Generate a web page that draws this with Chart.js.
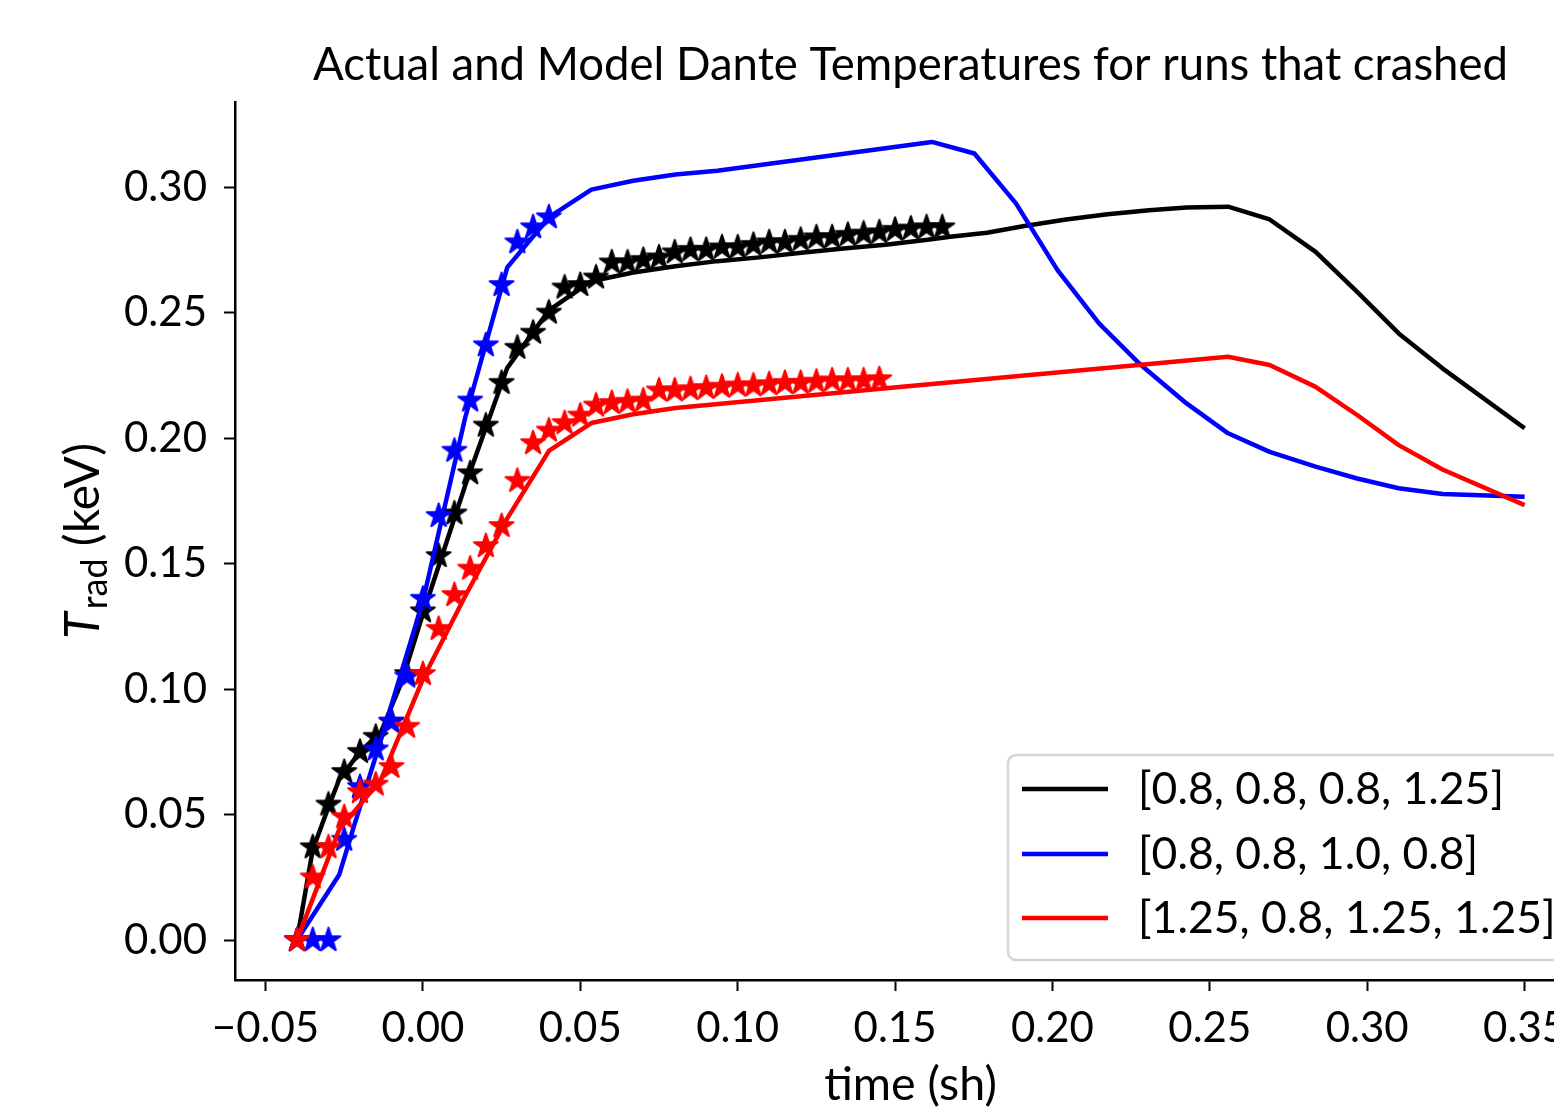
<!DOCTYPE html>
<html><head><meta charset="utf-8">
<script src="https://cdn.jsdelivr.net/npm/chart.js@4.4.1/dist/chart.umd.min.js"></script>
<style>
html,body{margin:0;padding:0;background:#fff;overflow:hidden;}
#wrap{position:relative;width:1554px;height:1113px;overflow:hidden;background:#fff;}
canvas{display:block;}
</style></head><body>
<div id="wrap"><canvas id="c" width="1600" height="1113"></canvas></div>
<script>
const FONT = 'Lato, "DejaVu Sans", sans-serif';
const titleText = 'Actual and Model Dante Temperatures for runs that crashed';
const xLabel = 'time (sh)';
const yLabelMain = 'T', yLabelSub = 'rad', yLabelUnit = ' (keV)';
const seriesLabels = ['[0.8, 0.8, 0.8, 1.25]', '[0.8, 0.8, 1.0, 0.8]', '[1.25, 0.8, 1.25, 1.25]'];
const seriesColors = ['#000000', '#0000ff', '#ff0000'];
const xTicks = [-0.05, 0.00, 0.05, 0.10, 0.15, 0.20, 0.25, 0.30, 0.35];
const yTicks = [0.00, 0.05, 0.10, 0.15, 0.20, 0.25, 0.30];
const xRange = [-0.0597, 0.3695];
const yRange = [-0.0159, 0.3339];

// model curves (lines)
const blackModelT = [-0.040, -0.035, -0.030, -0.0266, -0.020, -0.0133, -0.0067, 0.000, 0.0134, 0.0268, 0.0401, 0.0535, 0.0668, 0.0802, 0.0935, 0.1069, 0.1202, 0.1336, 0.1469, 0.1603, 0.1675, 0.1792, 0.1911, 0.2043, 0.2175, 0.2307, 0.2426, 0.2558, 0.2690, 0.2836, 0.2968, 0.3100, 0.3239, 0.3500];
const blackModelY = [0.000, 0.036, 0.053, 0.064, 0.075, 0.083, 0.103, 0.130, 0.181, 0.228, 0.251, 0.2625, 0.266, 0.2685, 0.2705, 0.272, 0.2738, 0.2755, 0.277, 0.279, 0.2802, 0.2818, 0.2845, 0.2871, 0.2892, 0.2908, 0.2919, 0.2922, 0.2871, 0.2742, 0.2583, 0.2417, 0.2278, 0.2039];

const blueModelT = [-0.040, -0.0266, -0.022, -0.0133, 0.000, 0.0134, 0.0268, 0.0401, 0.0535, 0.0668, 0.0802, 0.0935, 0.1617, 0.1752, 0.1884, 0.2016, 0.2148, 0.2281, 0.2426, 0.2558, 0.2690, 0.2836, 0.2968, 0.3100, 0.3239, 0.3500];
const blueModelY = [0.000, 0.026, 0.045, 0.080, 0.135, 0.208, 0.268, 0.288, 0.299, 0.3025, 0.305, 0.3065, 0.318, 0.3134, 0.2935, 0.2669, 0.2457, 0.2291, 0.2138, 0.2019, 0.1945, 0.1886, 0.1839, 0.1800, 0.1777, 0.1766];

const redModelT = [-0.040, -0.0266, -0.0133, 0.000, 0.0134, 0.0268, 0.0401, 0.0535, 0.0668, 0.0802, 0.1514, 0.2558, 0.2690, 0.2836, 0.2968, 0.3100, 0.3239, 0.3500];
const redModelY = [0.000, 0.044, 0.064, 0.104, 0.137, 0.168, 0.195, 0.206, 0.2095, 0.212, 0.2204, 0.2324, 0.2291, 0.2204, 0.2092, 0.1972, 0.1875, 0.1733];

// measured data (stars)
const blackDataT = [-0.040, -0.035, -0.030, -0.025, -0.020, -0.015, -0.010, -0.005, 0.000, 0.005, 0.010, 0.015, 0.020, 0.025, 0.030, 0.035, 0.040, 0.045, 0.050, 0.055, 0.060, 0.065, 0.070, 0.075, 0.080, 0.085, 0.090, 0.095, 0.100, 0.105, 0.110, 0.115, 0.120, 0.125, 0.130, 0.135, 0.140, 0.145, 0.150, 0.155, 0.160, 0.165];
const blackDataY = [0.000, 0.037, 0.054, 0.067, 0.075, 0.081, 0.087, 0.106, 0.131, 0.153, 0.170, 0.186, 0.205, 0.222, 0.236, 0.242, 0.250, 0.260, 0.261, 0.264, 0.270, 0.270, 0.271, 0.272, 0.274, 0.275, 0.275, 0.276, 0.276, 0.277, 0.278, 0.278, 0.279, 0.280, 0.280, 0.281, 0.2815, 0.282, 0.283, 0.2835, 0.284, 0.284];

const blueDataT = [-0.040, -0.035, -0.030, -0.025, -0.020, -0.015, -0.010, -0.005, 0.000, 0.005, 0.010, 0.015, 0.020, 0.025, 0.030, 0.035, 0.040];
const blueDataY = [0.000, 0.000, 0.000, 0.040, 0.061, 0.076, 0.087, 0.105, 0.136, 0.169, 0.195, 0.215, 0.237, 0.261, 0.278, 0.284, 0.288];

const redDataT = [-0.040, -0.035, -0.030, -0.025, -0.020, -0.015, -0.010, -0.005, 0.000, 0.005, 0.010, 0.015, 0.020, 0.025, 0.030, 0.035, 0.040, 0.045, 0.050, 0.055, 0.060, 0.065, 0.070, 0.075, 0.080, 0.085, 0.090, 0.095, 0.100, 0.105, 0.110, 0.115, 0.120, 0.125, 0.130, 0.135, 0.140, 0.145];
const redDataY = [0.000, 0.025, 0.037, 0.049, 0.059, 0.062, 0.069, 0.085, 0.106, 0.124, 0.1375, 0.148, 0.157, 0.165, 0.183, 0.198, 0.203, 0.206, 0.209, 0.213, 0.214, 0.2145, 0.215, 0.219, 0.219, 0.2195, 0.220, 0.2205, 0.221, 0.221, 0.2215, 0.222, 0.222, 0.2225, 0.223, 0.223, 0.223, 0.2235];

function pts(T, Y) { return T.map((t, i) => ({ x: t, y: Y[i] })); }
function starImage(color) {
  const s = 34, c = document.createElement('canvas'); c.width = s; c.height = s;
  const g = c.getContext('2d'); const R = 12.5, r = R * 0.381966;
  g.beginPath();
  for (let i = 0; i < 10; i++) {
    const a = -Math.PI / 2 + i * Math.PI / 5; const rr = (i % 2) ? r : R;
    g.lineTo(s / 2 + rr * Math.cos(a), s / 2 + rr * Math.sin(a));
  }
  g.closePath(); g.fillStyle = color; g.fill();
  g.lineWidth = 2; g.lineJoin = 'round'; g.strokeStyle = color; g.stroke();
  return c;
}
function fmt(v) { const a = Math.abs(v).toFixed(2); return v < -1e-9 ? '\u2212' + a : a; }

function lineDs(i, T, Y, order) {
  return { label: seriesLabels[i], data: pts(T, Y), showLine: true, borderColor: seriesColors[i], backgroundColor: seriesColors[i],
    borderWidth: 4.5, pointRadius: 0, pointHoverRadius: 0, tension: 0, fill: false, order: order, borderJoinStyle: 'round', borderCapStyle: 'butt' };
}
function starDs(i, T, Y, order) {
  return { label: '', data: pts(T, Y), showLine: false, pointStyle: starImage(seriesColors[i]), pointRadius: 13, order: order,
    borderColor: seriesColors[i], backgroundColor: seriesColors[i] };
}

const overlay = {
  id: 'overlay',
  afterDraw(chart) {
    const ctx = chart.ctx, ca = chart.chartArea;
    ctx.save();
    ctx.fillStyle = '#000';
    // title
    ctx.font = '45.5px ' + FONT; ctx.textAlign = 'center'; ctx.textBaseline = 'alphabetic';
    ctx.fillText(titleText, (ca.left + ca.right) / 2, 80);
    // x label
    ctx.font = '46.5px ' + FONT;
    ctx.fillText(xLabel, (ca.left + ca.right) / 2, 1100);
    // y label (rotated, with subscript)
    const cy = (ca.top + ca.bottom) / 2;
    ctx.translate(99, cy); ctx.rotate(-Math.PI / 2);
    ctx.textAlign = 'left';
    const fMain = 'italic 49px ' + FONT, fSub = '36px ' + FONT, fUnit = '48px ' + FONT;
    ctx.font = fMain; const w1 = ctx.measureText(yLabelMain).width;
    ctx.font = fSub; const w2 = ctx.measureText(yLabelSub).width;
    ctx.font = fUnit; const w3 = ctx.measureText(yLabelUnit).width;
    let x0 = -(w1 + w2 + w3 + 3) / 2;
    ctx.font = fMain; ctx.fillText(yLabelMain, x0, 0); x0 += w1 + 3;
    ctx.font = fSub; ctx.fillText(yLabelSub, x0, 8); x0 += w2;
    ctx.font = fUnit; ctx.fillText(yLabelUnit, x0, 0);
    ctx.restore();

    // legend
    ctx.save();
    const lx = 1008, ly = 755, lw = 559, lh = 205, rad = 8;
    ctx.beginPath();
    ctx.moveTo(lx + rad, ly); ctx.lineTo(lx + lw - rad, ly); ctx.arcTo(lx + lw, ly, lx + lw, ly + rad, rad);
    ctx.lineTo(lx + lw, ly + lh - rad); ctx.arcTo(lx + lw, ly + lh, lx + lw - rad, ly + lh, rad);
    ctx.lineTo(lx + rad, ly + lh); ctx.arcTo(lx, ly + lh, lx, ly + lh - rad, rad);
    ctx.lineTo(lx, ly + rad); ctx.arcTo(lx, ly, lx + rad, ly, rad); ctx.closePath();
    ctx.fillStyle = 'rgba(255,255,255,0.8)'; ctx.fill();
    ctx.strokeStyle = '#d5d5d5'; ctx.lineWidth = 2.5; ctx.stroke();
    const rows = [789, 854, 918];
    ctx.font = '44.5px ' + FONT; ctx.textAlign = 'left'; ctx.textBaseline = 'middle';
    for (let i = 0; i < 3; i++) {
      ctx.strokeStyle = seriesColors[i]; ctx.lineWidth = 4.5;
      ctx.beginPath(); ctx.moveTo(1022, rows[i]); ctx.lineTo(1108, rows[i]); ctx.stroke();
      ctx.fillStyle = '#000'; ctx.fillText(seriesLabels[i], 1138, rows[i] + 1);
    }
    ctx.restore();
  }
};

new Chart(document.getElementById('c'), {
  type: 'scatter',
  data: {
    datasets: [
      lineDs(0, blackModelT, blackModelY, 6),
      starDs(0, blackDataT, blackDataY, 5),
      lineDs(1, blueModelT, blueModelY, 4),
      starDs(1, blueDataT, blueDataY, 3),
      lineDs(2, redModelT, redModelY, 2),
      starDs(2, redDataT, redDataY, 1)
    ]
  },
  options: {
    responsive: false, animation: false, devicePixelRatio: 1,
    layout: { padding: { top: 102, right: 12.5, left: 0, bottom: 0 } },
    plugins: { legend: { display: false }, tooltip: { enabled: false }, title: { display: false } },
    scales: {
      x: {
        type: 'linear', min: xRange[0], max: xRange[1],
        afterBuildTicks: s => { s.ticks = xTicks.map(v => ({ value: v })); },
        afterFit: s => { s.height = 133; },
        ticks: { callback: v => fmt(v), font: { family: FONT, size: 42 }, color: '#000', padding: 12, maxRotation: 0, autoSkip: false },
        grid: { drawOnChartArea: false, drawTicks: true, tickLength: 11, tickWidth: 2, tickColor: '#000' },
        border: { display: true, color: '#000', width: 2.5 }
      },
      y: {
        type: 'linear', min: yRange[0], max: yRange[1],
        afterBuildTicks: s => { s.ticks = yTicks.map(v => ({ value: v })); },
        afterFit: s => { s.width = 235; },
        ticks: { callback: v => fmt(v), font: { family: FONT, size: 42 }, color: '#000', padding: 17, autoSkip: false },
        grid: { drawOnChartArea: false, drawTicks: true, tickLength: 11, tickWidth: 2, tickColor: '#000' },
        border: { display: true, color: '#000', width: 2.5 }
      }
    }
  },
  plugins: [overlay]
});
</script>
</body></html>
